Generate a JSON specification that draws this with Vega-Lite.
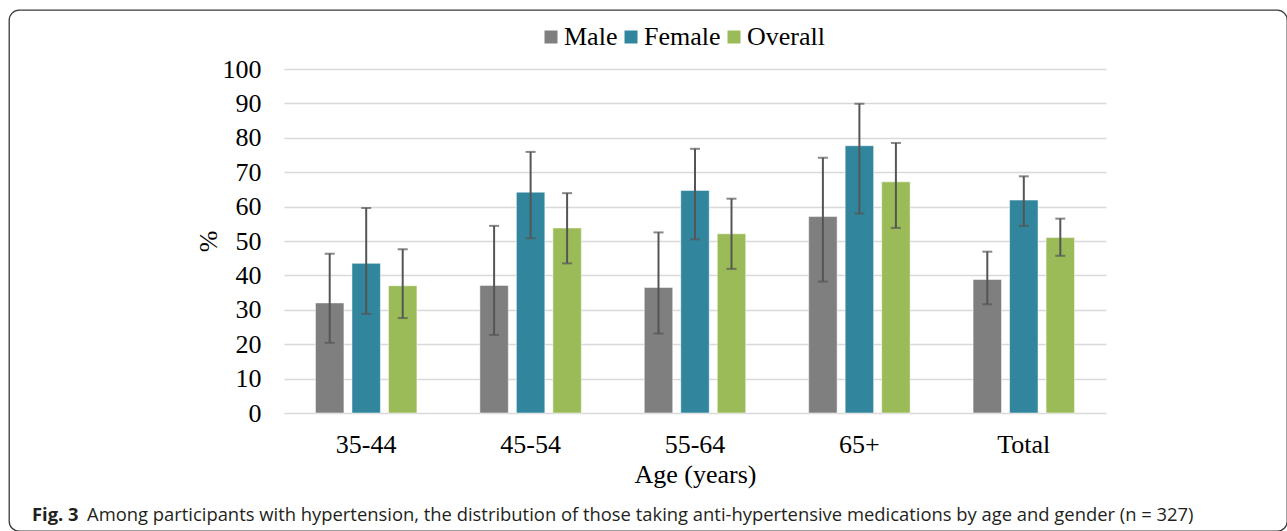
{
  "$schema": "https://vega.github.io/schema/vega-lite/v6.json",
  "autosize": "none",
  "width": 1278,
  "height": 521,
  "padding": {"left": 9, "top": 10, "right": 0, "bottom": 0},
  "background": "white",
  "title": {
    "text": "Fig. 3",
    "subtitle": "Among participants with hypertension, the distribution of those taking anti-hypertensive medications by age and gender (n = 327)",
    "orient": "bottom",
    "anchor": "start",
    "frame": "group",
    "offset": -25,
    "font": "Open Sans",
    "fontSize": 18.4,
    "fontWeight": "bold",
    "color": "#231f20",
    "subtitleFont": "Open Sans",
    "subtitleFontSize": 18.4,
    "subtitleColor": "#231f20",
    "subtitlePadding": -18.4
  },
  "data": {
    "values": [
      {"age": "35-44", "group": "Male", "pct": 32.0, "lo": 20.4, "hi": 46.3},
      {"age": "35-44", "group": "Female", "pct": 43.5, "lo": 28.8, "hi": 59.6},
      {"age": "35-44", "group": "Overall", "pct": 37.0, "lo": 27.6, "hi": 47.6},
      {"age": "45-54", "group": "Male", "pct": 37.1, "lo": 22.7, "hi": 54.4},
      {"age": "45-54", "group": "Female", "pct": 64.2, "lo": 50.8, "hi": 75.9},
      {"age": "45-54", "group": "Overall", "pct": 53.8, "lo": 43.5, "hi": 63.9},
      {"age": "55-64", "group": "Male", "pct": 36.5, "lo": 23.1, "hi": 52.5},
      {"age": "55-64", "group": "Female", "pct": 64.7, "lo": 50.5, "hi": 76.8},
      {"age": "55-64", "group": "Overall", "pct": 52.1, "lo": 41.9, "hi": 62.3},
      {"age": "65+", "group": "Male", "pct": 57.1, "lo": 38.2, "hi": 74.2},
      {"age": "65+", "group": "Female", "pct": 77.7, "lo": 58.0, "hi": 89.9},
      {"age": "65+", "group": "Overall", "pct": 67.2, "lo": 53.8, "hi": 78.5},
      {"age": "Total", "group": "Male", "pct": 38.8, "lo": 31.6, "hi": 46.9},
      {"age": "Total", "group": "Female", "pct": 61.9, "lo": 54.4, "hi": 68.8},
      {"age": "Total", "group": "Overall", "pct": 51.0, "lo": 45.7, "hi": 56.5}
    ]
  },
  "encoding": {
    "x": {
      "field": "age",
      "type": "nominal",
      "scale": {
        "domain": ["35-44", "45-54", "55-64", "65+", "Total"],
        "range": [275, 1097],
        "paddingInner": 0,
        "paddingOuter": 0
      },
      "axis": {
        "orient": "bottom",
        "offset": -118,
        "domain": false,
        "ticks": false,
        "tickSize": 0,
        "grid": false,
        "labelAngle": 0,
        "labelFont": "Liberation Serif",
        "labelFontSize": 26,
        "labelColor": "#000000",
        "labelPadding": 39,
        "labelBaseline": "alphabetic",
        "title": "Age (years)",
        "titleFont": "Liberation Serif",
        "titleFontSize": 26,
        "titleFontWeight": "normal",
        "titleColor": "#000000",
        "titleY": 69,
        "titleBaseline": "alphabetic"
      }
    },
    "xOffset": {
      "field": "group",
      "type": "nominal",
      "scale": {
        "domain": ["Male", "Female", "Overall"],
        "paddingInner": 0.22,
        "paddingOuter": 0.862
      }
    }
  },
  "layer": [
    {
      "mark": {"type": "bar", "stroke": "#ffffff", "strokeOpacity": 0.5, "strokeWidth": 1},
      "encoding": {
        "y": {
          "field": "pct",
          "type": "quantitative",
          "title": "%",
          "scale": {"domain": [0, 100], "range": [403, 59], "nice": false, "zero": true},
          "axis": {
            "orient": "left",
            "offset": -275,
            "values": [0, 10, 20, 30, 40, 50, 60, 70, 80, 90, 100],
            "domain": false,
            "ticks": false,
            "tickSize": 0,
            "grid": true,
            "gridColor": "#d9d9d9",
            "gridWidth": 1.5,
            "labelFont": "Liberation Serif",
            "labelFontSize": 26,
            "labelColor": "#000000",
            "labelPadding": 23,
            "titleFont": "Liberation Serif",
            "titleFontSize": 26,
            "titleFontWeight": "normal",
            "titleColor": "#000000",
            "titleX": -76,
            "titleY": 231,
            "titleAngle": -90,
            "titleAlign": "center",
            "titleBaseline": "middle"
          }
        },
        "color": {
          "field": "group",
          "type": "nominal",
          "scale": {
            "domain": ["Male", "Female", "Overall"],
            "range": ["#7f7f7f", "#31859c", "#9bbb59"]
          },
          "legend": {
            "orient": "none",
            "legendX": 529,
            "legendY": 14,
            "direction": "horizontal",
            "title": null,
            "symbolType": "square",
            "symbolSize": 169,
            "symbolStrokeWidth": 0,
            "labelFont": "Liberation Serif",
            "labelFontSize": 26,
            "labelColor": "#000000",
            "labelOffset": 0,
            "columnPadding": 0,
            "padding": 0
          }
        }
      }
    },
    {
      "mark": {"type": "rule", "color": "#555555", "strokeWidth": 2},
      "encoding": {
        "y": {"field": "lo", "type": "quantitative", "title": "%"},
        "y2": {"field": "hi"}
      }
    },
    {
      "mark": {"type": "tick", "color": "#555555", "thickness": 2, "size": 10},
      "encoding": {
        "y": {"field": "lo", "type": "quantitative", "title": "%"}
      }
    },
    {
      "mark": {"type": "tick", "color": "#555555", "thickness": 2, "size": 10},
      "encoding": {
        "y": {"field": "hi", "type": "quantitative", "title": "%"}
      }
    }
  ],
  "config": {
    "view": {"stroke": "#3a3a3a", "strokeWidth": 1.3, "cornerRadius": 10},
    "style": {
      "group-title": {"dx": 23},
      "group-subtitle": {"dx": 78}
    }
  }
}
